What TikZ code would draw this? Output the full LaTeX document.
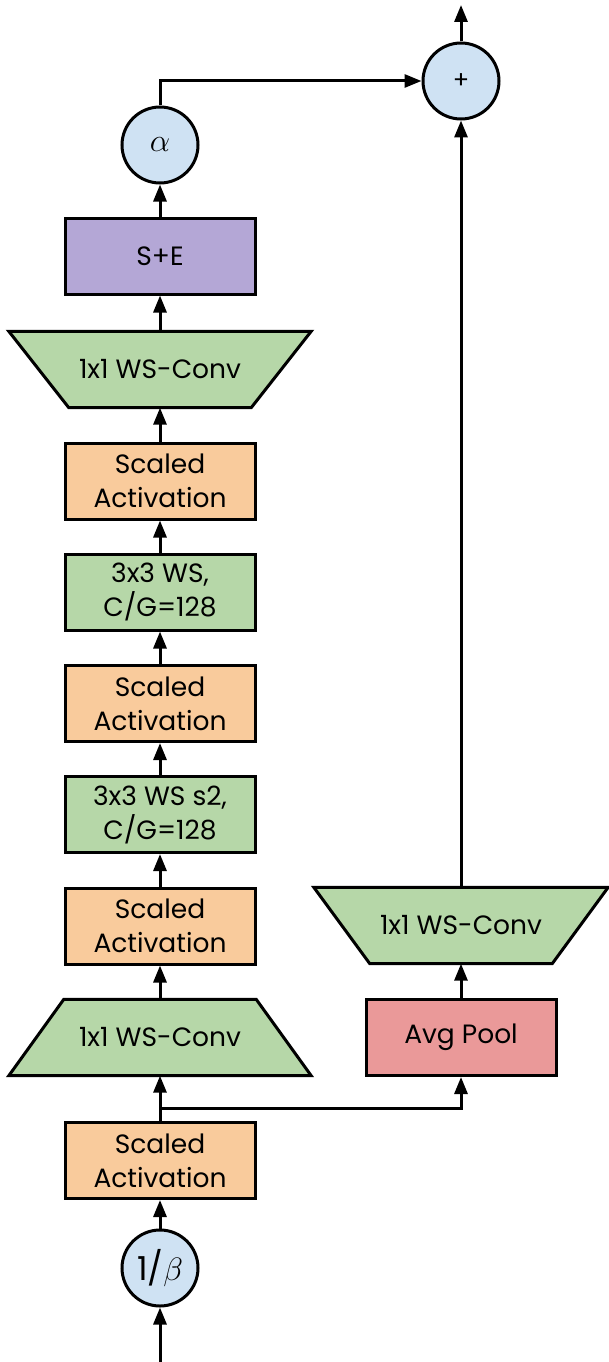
\documentclass[tikz,border=0pt]{standalone}
\usepackage{fontspec}
\setmainfont{Poppins}
\usetikzlibrary{arrows.meta,backgrounds}

\definecolor{opblue}{HTML}{CFE2F3}
\definecolor{seviolet}{HTML}{B4A7D6}
\definecolor{convgreen}{HTML}{B6D7A8}
\definecolor{actorange}{HTML}{F9CB9C}
\definecolor{poolred}{HTML}{EA9999}

\begin{document}
\begin{tikzpicture}[
    x=1pt, y=-1pt,
    font=\fontsize{26.5}{34}\selectfont,
    arr/.style={-{Triangle[length=17pt,width=13pt]}, line width=3pt},
    box/.style={rectangle, draw, line width=3pt, minimum width=190pt, minimum height=76pt, align=center, inner sep=0pt},
    actbox/.style={box, fill=actorange},
    convbox/.style={box, fill=convgreen},
    op/.style={circle, draw, line width=3pt, fill=opblue, minimum size=76pt, inner sep=0pt, font=\fontsize{33}{36}\selectfont},
    trap/.style={rectangle, minimum width=#1, minimum height=76pt, inner sep=0pt},
    trapline/.style={draw, line width=3pt, fill=convgreen, line join=miter}
]
    \useasboundingbox (0,0) rectangle (609,1362);

    \coordinate (in) at (160,1362);
    \coordinate (out) at (461,5);
    \coordinate (split) at (160,1108);

    \node[op] (beta) at (160,1268) {1/\scalebox{1.3}{$\beta$}};
    \node[actbox] (act0) at (160,1160.5) {Scaled\\Activation};
    \node[trap=302pt] (convin) at (160,1037.5) {1x1 WS-Conv};
    \node[actbox] (act1) at (160,926) {Scaled\\Activation};
    \node[convbox] (conv1) at (160,814.5) {3x3 WS s2,\\C/G=128};
    \node[actbox] (act2) at (160,703.5) {Scaled\\Activation};
    \node[convbox] (conv2) at (160,592) {3x3 WS,\\C/G=128};
    \node[actbox] (act3) at (160,481) {Scaled\\Activation};
    \node[trap=302pt] (convout) at (160,369.5) {1x1 WS-Conv};
    \node[box, fill=seviolet] (se) at (160,256) {S+E};
    \node[op] (alpha) at (160,145) {\scalebox{1.3}{$\alpha$}};

    % shortcut branch
    \node[box, fill=poolred] (pool) at (461,1037.5) {Avg Pool};
    \node[trap=294pt] (convsc) at (461,925.5) {1x1 WS-Conv};
    \node[op, font=\fontsize{24}{26}\selectfont] (plus) at (461,81) {+};

    % trapezoid outlines behind the conv labels
    \begin{scope}[on background layer]
        \draw[trapline] (convin.south west) -- (convin.south east) -- ([xshift=-55pt]convin.north east) -- ([xshift=55pt]convin.north west) -- cycle;
        \draw[trapline] (convout.north west) -- (convout.north east) -- ([xshift=-60pt]convout.south east) -- ([xshift=60pt]convout.south west) -- cycle;
        \draw[trapline] (convsc.north west) -- (convsc.north east) -- ([xshift=-56pt]convsc.south east) -- ([xshift=56pt]convsc.south west) -- cycle;
    \end{scope}

    \draw[arr] (in) -- (beta);
    \draw[arr] (beta) -- (act0);
    \draw[arr] (act0) -- (convin);
    \draw[arr] (split) -| (pool);
    \draw[arr] (convin) -- (act1);
    \draw[arr] (act1) -- (conv1);
    \draw[arr] (conv1) -- (act2);
    \draw[arr] (act2) -- (conv2);
    \draw[arr] (conv2) -- (act3);
    \draw[arr] (act3) -- (convout);
    \draw[arr] (convout) -- (se);
    \draw[arr] (se) -- (alpha);
    \draw[arr] (alpha.north) |- (plus.west);
    \draw[arr] (pool) -- (convsc);
    \draw[arr] (convsc) -- (plus);
    \draw[arr] (plus) -- (out);
\end{tikzpicture}
\end{document}
